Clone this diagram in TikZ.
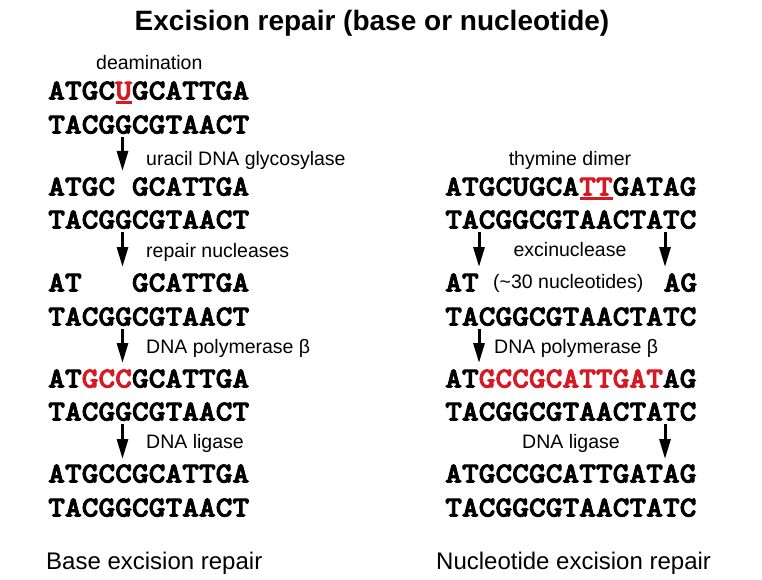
\documentclass[tikz,border=0pt]{standalone}
\usepackage{fontspec}
\setmainfont{Liberation Sans}
\newfontfamily\dnafont{lmmonolt10-bold.otf}[FakeStretch=1.1, FakeBold=3]
\usetikzlibrary{arrows.meta}
\definecolor{dnared}{RGB}{215,25,35}
\tikzset{
  strand/.style={anchor=base west, inner sep=0pt, font=\dnafont\fontsize{29}{29}\selectfont},
  lbl/.style={inner sep=0pt, font=\fontsize{19.5}{20}\selectfont},
  ttl/.style={inner sep=0pt, anchor=base, font=\bfseries\fontsize{28}{30}\selectfont},
  caption/.style={inner sep=0pt, anchor=base west, font=\fontsize{24}{26}\selectfont},
  arr/.style={line width=3pt, -{Triangle[width=11pt,length=20pt]}},
  uline/.style={draw=dnared, line width=2.6pt}
}
\begin{document}
\begin{tikzpicture}[x=1pt,y=-1pt]
\useasboundingbox (0,0) rectangle (762,580);
% title
\node[ttl] (title) at (372,31) {Excision repair (base or nucleotide)};
% ---------- left column: base excision repair ----------
\node[lbl, anchor=base west] (deam) at (96,70) {deamination};
\node[strand] (l1a) at (48,99.5) {ATGC{\color{dnared}U}GCATTGA};
\node[strand] (l1b) at (48,133.5) {TACGGCGTAACT};
\node[lbl, anchor=base west] (ung) at (146,166) {uracil DNA glycosylase};
\node[strand] (l2a) at (48,195.5) {ATGC\phantom{U}GCATTGA};
\node[strand] (l2b) at (48,228.5) {TACGGCGTAACT};
\node[lbl, anchor=base west] (rn) at (146,257) {repair nucleases};
\node[strand] (l3a) at (48,291.5) {AT\phantom{UGC}GCATTGA};
\node[strand] (l3b) at (48,325.5) {TACGGCGTAACT};
\node[lbl, anchor=base west] (pol1) at (146,353) {DNA polymerase β};
\node[strand] (l4a) at (48,387.5) {AT{\color{dnared}GCC}GCATTGA};
\node[strand] (l4b) at (48,420.5) {TACGGCGTAACT};
\node[lbl, anchor=base west] (lig1) at (146,448) {DNA ligase};
\node[strand] (l5a) at (48,482.5) {ATGCCGCATTGA};
\node[strand] (l5b) at (48,516.5) {TACGGCGTAACT};
\node[caption] (ber) at (46,569) {Base excision repair};
% underline U
\coordinate (u1) at (115.5,102.5);
\coordinate (u2) at (132,102.5);
\draw[uline] (u1) -- (u2);
% left arrows
\coordinate (la1s) at (122.5,137);  \coordinate (la1e) at (122.5,171);
\coordinate (la2s) at (122.5,232);  \coordinate (la2e) at (122.5,267);
\coordinate (la3s) at (122.5,329);  \coordinate (la3e) at (122.5,363);
\coordinate (la4s) at (122.5,424);  \coordinate (la4e) at (122.5,459);
\draw[arr] (la1s) -- (la1e);
\draw[arr] (la2s) -- (la2e);
\draw[arr] (la3s) -- (la3e);
\draw[arr] (la4s) -- (la4e);
% ---------- right column: nucleotide excision repair ----------
\node[lbl, anchor=base] (td) at (570,166) {thymine dimer};
\node[strand] (r1a) at (445,195.5) {ATGCUGCA{\color{dnared}TT}GATAG};
\node[strand] (r1b) at (445,228.5) {TACGGCGTAACTATC};
\node[lbl, anchor=base] (exc) at (570,256) {excinuclease};
\node[strand] (r2a) at (445,291.5) {AT};
\node[lbl, anchor=base west] (nt30) at (493,288) {(\textasciitilde30 nucleotides)};
\node[strand] (r2c) at (663.4,291.5) {AG};
\node[strand] (r2b) at (445,325.5) {TACGGCGTAACTATC};
\node[lbl, anchor=base west] (pol2) at (494,353) {DNA polymerase β};
\node[strand] (r3a) at (445,387.5) {AT{\color{dnared}GCCGCATTGAT}AG};
\node[strand] (r3b) at (445,420.5) {TACGGCGTAACTATC};
\node[lbl, anchor=base] (lig2) at (571,448) {DNA ligase};
\node[strand] (r4a) at (445,482.5) {ATGCCGCATTGATAG};
\node[strand] (r4b) at (445,516.5) {TACGGCGTAACTATC};
\node[caption] (ner) at (436,569) {Nucleotide excision repair};
% underline TT
\coordinate (t1) at (579.5,198.5);
\coordinate (t2) at (613,198.5);
\draw[uline] (t1) -- (t2);
% right arrows
\coordinate (ra1s) at (479,232);  \coordinate (ra1e) at (479,267);
\coordinate (ra2s) at (665,232);  \coordinate (ra2e) at (665,267);
\coordinate (ra3s) at (479,329);  \coordinate (ra3e) at (479,363);
\coordinate (ra4s) at (665,424);  \coordinate (ra4e) at (665,459);
\draw[arr] (ra1s) -- (ra1e);
\draw[arr] (ra2s) -- (ra2e);
\draw[arr] (ra3s) -- (ra3e);
\draw[arr] (ra4s) -- (ra4e);
\end{tikzpicture}
\end{document}
